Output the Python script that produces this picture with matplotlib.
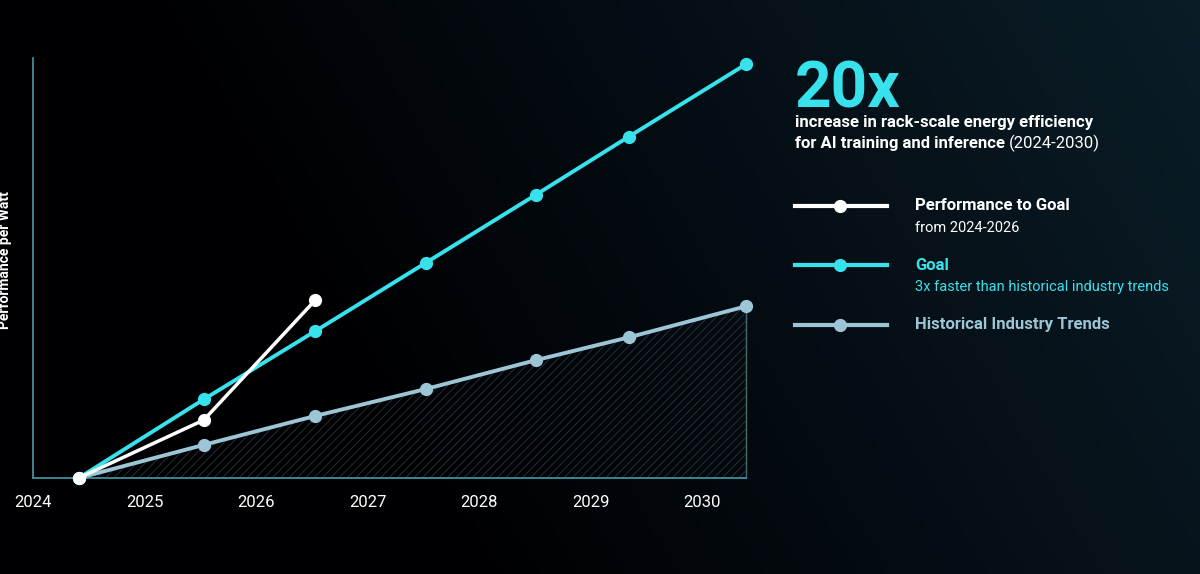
import matplotlib
matplotlib.use('Agg')
import matplotlib.pyplot as plt
import numpy as np

plt.rcParams['font.family'] = ['Roboto', 'DejaVu Sans']
plt.rcParams['hatch.linewidth'] = 0.6

years = [2024.41, 2025.53, 2026.53, 2027.52, 2028.51, 2029.34, 2030.39]
goal = [0, 3.8, 7.1, 10.4, 13.7, 16.5, 20.0]
historical = [0, 1.6, 3.0, 4.3, 5.7, 6.8, 8.3]
perf_years = [2024.41, 2025.53, 2026.53]
performance = [0, 2.8, 8.6]
tick_years = [2024, 2025, 2026, 2027, 2028, 2029, 2030]

CYAN = '#38e2ed'
HIST = '#9cc6d6'
WHITE = '#ffffff'
AXIS = '#3f8f9c'

fig = plt.figure(figsize=(12, 5.74), dpi=100)

# background gradient: black on left -> dark navy-teal upper right
bg = fig.add_axes([0, 0, 1, 1])
gx, gy = np.meshgrid(np.linspace(0, 1, 300), np.linspace(0, 1, 150))
t = np.clip(gx * 0.9 + (1 - gy) * 0.25 - 0.35, 0, 1)
c0 = np.array([0.0, 0.0, 0.01])
c1 = np.array([0.05, 0.14, 0.19])
img = c0 + (c1 - c0) * t[..., None]
bg.imshow(img, aspect='auto', extent=[0, 1, 0, 1], origin='upper')
bg.axis('off')

ax = fig.add_axes([33 / 1200, 1 - 478 / 574, 713 / 1200, 420 / 574])
ax.patch.set_alpha(0)
ax.set_xlim(2024, 2030.39)
ax.set_ylim(0, 20.3)

# hatched area under historical trend
ax.fill_between(years, 0, historical, facecolor='none', edgecolor='#2a373d',
                hatch='////', linewidth=0, zorder=1)
ax.plot([years[-1], years[-1]], [0, historical[-1]], color='#4a6a72', lw=1, zorder=1,
        clip_on=False)

ax.plot(years, historical, color=HIST, lw=2.8, marker='o', ms=8.5, zorder=3, clip_on=False)
ax.plot(years, goal, color=CYAN, lw=2.8, marker='o', ms=8.5, zorder=4, clip_on=False)
ax.plot(perf_years, performance, color=WHITE, lw=2.5, marker='o', ms=8.5, zorder=5,
        clip_on=False)

for s in ['top', 'right']:
    ax.spines[s].set_visible(False)
for s in ['left', 'bottom']:
    ax.spines[s].set_color(AXIS)
    ax.spines[s].set_linewidth(1.3)
ax.set_yticks([])
ax.set_xticks(tick_years)
ax.set_xticklabels([str(y) for y in tick_years])
ax.tick_params(axis='x', length=0, pad=12, labelsize=12, colors='white')
ax.set_ylabel('Performance per Watt', color='white', fontsize=10, fontweight='bold')
ax.yaxis.set_label_coords(-21 / 713, (478 - 260) / 420)

# headline
fig.text(795 / 1200, 1 - 107 / 574, '20x', color=CYAN, fontsize=46, fontweight='bold',
         va='baseline')
fig.text(795 / 1200, 1 - 127 / 574, 'increase in rack-scale energy efficiency',
         color='white', fontsize=12, fontweight='bold', va='baseline')
t1 = fig.text(795 / 1200, 1 - 148 / 574, 'for AI training and inference ',
              color='white', fontsize=12, fontweight='bold', va='baseline')
fig.canvas.draw()
bb = t1.get_window_extent()
fig.text(bb.x1 / 1200, 1 - 148 / 574, '(2024-2030)', color='white', fontsize=12,
         va='baseline')

# legend
legend_rows = [
    (206, WHITE, 'Performance to Goal', 'from 2024-2026', WHITE),
    (265, CYAN, 'Goal', '3x faster than historical industry trends', CYAN),
    (325, HIST, 'Historical Industry Trends', None, None),
]
for py, col, title, sub, subcol in legend_rows:
    yf = 1 - py / 574
    fig.add_artist(plt.Line2D([795 / 1200, 887 / 1200], [yf, yf], color=col, lw=3))
    fig.add_artist(plt.Line2D([840 / 1200], [yf], color=col, marker='o', ms=8.5))
    fig.text(915 / 1200, yf, title, color=col, fontsize=12, fontweight='bold',
             va='center')
    if sub:
        fig.text(915 / 1200, yf - 22 / 574, sub, color=subcol, fontsize=10.5,
                 va='center')

fig.savefig('out.png', dpi=100)
